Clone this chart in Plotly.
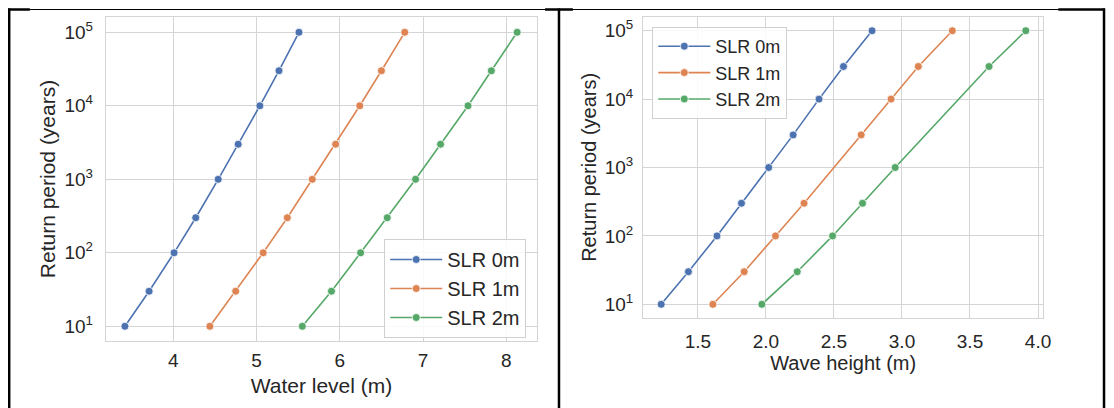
import plotly.graph_objects as go

# ---- data ----
return_periods = [10, 30, 100, 300, 1000, 3000, 10000, 30000, 100000]
series_names = ["SLR 0m", "SLR 1m", "SLR 2m"]

water_slr0 = [3.42, 3.71, 4.01, 4.27, 4.54, 4.78, 5.04, 5.27, 5.51]
water_slr1 = [4.44, 4.75, 5.08, 5.37, 5.67, 5.95, 6.24, 6.50, 6.78]
water_slr2 = [5.55, 5.90, 6.25, 6.57, 6.91, 7.21, 7.54, 7.82, 8.13]

wave_slr0 = [1.23, 1.43, 1.64, 1.82, 2.02, 2.20, 2.39, 2.57, 2.78]
wave_slr1 = [1.61, 1.84, 2.07, 2.28, None, 2.70, 2.92, 3.12, 3.37]
wave_slr2 = [1.97, 2.23, 2.49, 2.71, 2.95, None, None, 3.64, 3.91]

y_tickvals = [10, 100, 1000, 10000, 100000]
y_ticktext = ["10<sup>1</sup>", "10<sup>2</sup>", "10<sup>3</sup>", "10<sup>4</sup>", "10<sup>5</sup>"]
x1_tickvals = [4, 5, 6, 7, 8]
x2_tickvals = [1.5, 2.0, 2.5, 3.0, 3.5, 4.0]

colors = ["#4C72B0", "#DD8452", "#55A868"]

# page has an 8px body margin, so the figure starts at (8, 8) of the window
OFF = 8
W, H = 1114 - OFF, 408 - OFF
FONT = "Liberation Sans, Arial, sans-serif"
TXT = "#262626"
GRID = "#d4d4d4"

fig = go.Figure()

for name, xs, c in zip(series_names, [water_slr0, water_slr1, water_slr2], colors):
    fig.add_trace(go.Scatter(
        x=xs, y=return_periods, name=name, mode="lines+markers",
        line=dict(color=c, width=1.6),
        marker=dict(color=c, size=8, line=dict(color="white", width=0.8)),
        xaxis="x", yaxis="y", legend="legend"))

for name, xs, c in zip(series_names, [wave_slr0, wave_slr1, wave_slr2], colors):
    fig.add_trace(go.Scatter(
        x=xs, y=return_periods, name=name, mode="lines+markers",
        connectgaps=True,
        line=dict(color=c, width=1.6),
        marker=dict(color=c, size=8, line=dict(color="white", width=0.8)),
        xaxis="x2", yaxis="y2", legend="legend2"))

def px_x(p):
    return (p - OFF) / W

def px_y(p):
    return 1 - (p - OFF) / H

axis_common = dict(
    showgrid=True, gridcolor=GRID, gridwidth=1,
    showline=True, linecolor=GRID, linewidth=1, mirror=True,
    zeroline=False, ticks="",
)

fig.update_layout(
    width=W, height=H,
    margin=dict(l=0, r=0, t=0, b=0),
    paper_bgcolor="white", plot_bgcolor="white",
    font=dict(family=FONT, color=TXT),
    xaxis=dict(**axis_common, domain=[px_x(106.5), px_x(541)], range=[3.19, 8.37],
               tickvals=x1_tickvals, ticklabelstandoff=2,
               tickfont=dict(family=FONT, size=19, color=TXT),
               title=dict(text="Water level (m)", font=dict(size=21, color=TXT), standoff=8),
               anchor="y"),
    yaxis=dict(**axis_common, domain=[px_y(341), px_y(17)], type="log", range=[0.80, 5.208],
               tickvals=y_tickvals, ticktext=y_ticktext, ticklabelstandoff=8,
               tickfont=dict(family=FONT, size=19, color=TXT),
               title=dict(text="Return period (years)", font=dict(size=21, color=TXT), standoff=3),
               anchor="x"),
    xaxis2=dict(**axis_common, domain=[px_x(647.6), px_x(1051)], range=[1.096, 4.04],
                tickvals=x2_tickvals, tickformat=".1f", ticklabelstandoff=6,
                tickfont=dict(family=FONT, size=19, color=TXT),
                title=dict(text="Wave height (m)", font=dict(size=20, color=TXT), standoff=0),
                anchor="y2"),
    yaxis2=dict(**axis_common, domain=[px_y(318), px_y(16.7)], type="log", range=[0.80, 5.205],
                tickvals=y_tickvals, ticktext=y_ticktext, ticklabelstandoff=5,
                tickfont=dict(family=FONT, size=19, color=TXT),
                title=dict(text="Return period (years)", font=dict(size=20, color=TXT), standoff=2),
                anchor="x2"),
    legend=dict(x=px_x(530), y=px_y(239), xanchor="right", yanchor="top",
                bgcolor="rgba(255,255,255,0.85)", bordercolor="#d0d0d0", borderwidth=1,
                font=dict(family=FONT, size=20, color=TXT), itemwidth=52),
    legend2=dict(x=px_x(657), y=px_y(27), xanchor="left", yanchor="top",
                 bgcolor="rgba(255,255,255,0.85)", bordercolor="#d0d0d0", borderwidth=1,
                 font=dict(family=FONT, size=18, color=TXT), itemwidth=52),
    showlegend=True,
)

# table frame lines
shapes = []
def line(x0, y0, x1, y1, w):
    shapes.append(dict(type="line", xref="paper", yref="paper",
                       x0=px_x(x0), y0=px_y(y0), x1=px_x(x1), y1=px_y(y1),
                       line=dict(color="black", width=w)))
line(8, 9.5, 1113, 9.5, 1)
line(8, 9.5, 30, 9.5, 2.5)
line(549, 9.5, 577, 9.5, 2.5)
line(1066, 9.5, 1113, 9.5, 2.5)
line(9.2, 8.5, 9.2, 408, 2.5)
line(563, 8.5, 563, 408, 2.5)
line(1112, 8.5, 1112, 408, 2.5)
fig.update_layout(shapes=shapes)

fig.write_html("out.html")
